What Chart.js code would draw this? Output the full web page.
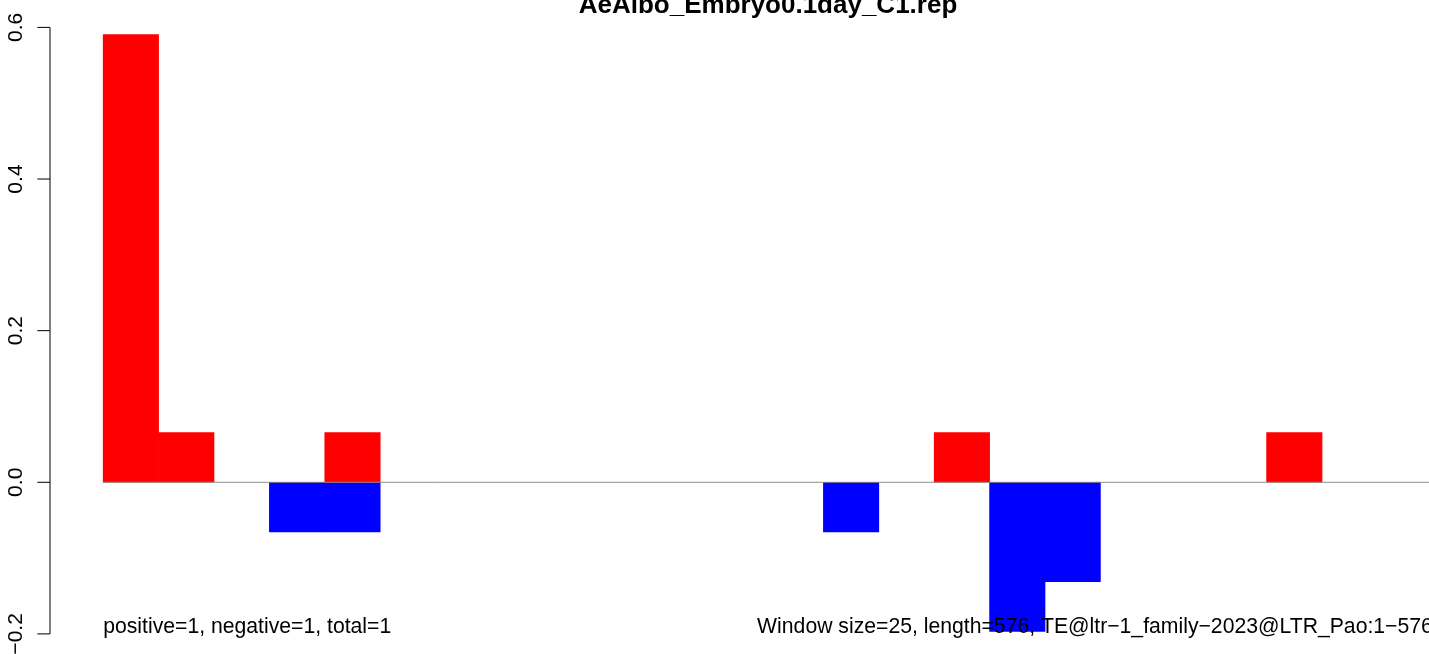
<!DOCTYPE html>
<html>
<head>
<meta charset="utf-8">
<style>
html,body{margin:0;padding:0;overflow:hidden;background:#ffffff;width:1429px;height:654px}
#wrap{position:relative;width:1500px;height:654px}
</style>
<script src="https://cdn.jsdelivr.net/npm/chart.js@4/dist/chart.umd.min.js"></script>
</head>
<body>
<div id="wrap"><canvas id="c" width="1500" height="654"></canvas></div>
<script>
// ---- data ----
const chartTitle = 'AeAlbo_Embryo0.1day_C1.rep';
const windowCount = 24;
const windowStarts = [0,1,2,3,4,5,6,7,8,9,10,11,12,13,14,15,16,17,18,19,20,21,22,23];
const positiveValues = [0.5904, 0.0656, null, null, 0.0656, null, null, null, null, null, null, null,
                        null, null, null, 0.0656, null, null, null, null, null, 0.0656, null, null];
const negativeValues = [null, null, null, -0.0656, -0.0656, null, null, null, null, null, null, null,
                        null, -0.0656, null, null, -0.1968, -0.1312, null, null, null, null, null, null];
const yTickValues = [-0.2, 0, 0.2, 0.4, 0.6];
const yTickLabels = ['\u22120.2', '0.0', '0.2', '0.4', '0.6'];
const leftNote = 'positive=1, negative=1, total=1';
const rightNote = 'Window size=25, length=576, TE@ltr\u22121_family\u22122023@LTR_Pao:1\u2212576';
const noteY = -0.1983;

const FONT = "'Liberation Sans', Arial, Helvetica, sans-serif";

const posData = windowStarts.map((s, i) => ({x: s + 0.5, y: positiveValues[i]}));
const negData = windowStarts.map((s, i) => ({x: s + 0.5, y: negativeValues[i]}));

const rStyle = {
  id: 'rStyle',
  afterDatasetsDraw(chart) {
    const ctx = chart.ctx;
    const xs = chart.scales.x, ys = chart.scales.y;
    const ca = chart.chartArea;
    ctx.save();
    // zero line
    const y0 = ys.getPixelForValue(0);
    ctx.strokeStyle = '#8e8e8e';
    ctx.lineWidth = 1;
    ctx.beginPath();
    ctx.moveTo(xs.getPixelForValue(0), y0);
    ctx.lineTo(xs.getPixelForValue(windowCount), y0);
    ctx.stroke();

    // y axis
    const ax = ca.left;
    ctx.strokeStyle = '#000000';
    ctx.lineWidth = 1;
    ctx.beginPath();
    ctx.moveTo(ax, ys.getPixelForValue(yTickValues[0]));
    ctx.lineTo(ax, ys.getPixelForValue(yTickValues[yTickValues.length - 1]));
    yTickValues.forEach(v => {
      const py = ys.getPixelForValue(v);
      ctx.moveTo(ax, py);
      ctx.lineTo(ax - 12.7, py);
    });
    ctx.stroke();

    ctx.fillStyle = '#000000';
    ctx.font = '21px ' + FONT;
    ctx.textAlign = 'center';
    ctx.textBaseline = 'alphabetic';
    yTickValues.forEach((v, i) => {
      const py = ys.getPixelForValue(v);
      ctx.save();
      ctx.translate(21.7, py);
      ctx.rotate(-Math.PI / 2);
      ctx.fillText(yTickLabels[i], 0, 0);
      ctx.restore();
    });

    // title
    ctx.font = 'bold 26px ' + FONT;
    ctx.textAlign = 'center';
    ctx.fillText(chartTitle, (ca.left + ca.right) / 2, 13);

    // notes
    ctx.font = '21.2px ' + FONT;
    const ny = ys.getPixelForValue(noteY);
    ctx.textAlign = 'left';
    ctx.fillText(leftNote, xs.getPixelForValue(0), ny);
    ctx.textAlign = 'right';
    ctx.fillText(rightNote, xs.getPixelForValue(windowCount), ny);
    ctx.restore();
  }
};

new Chart(document.getElementById('c'), {
  type: 'bar',
  data: {
    datasets: [
      {label: 'positive', data: posData, backgroundColor: '#ff0000', borderWidth: 0,
       grouped: false, barPercentage: 1, categoryPercentage: 1},
      {label: 'negative', data: negData, backgroundColor: '#0000ff', borderWidth: 0,
       grouped: false, barPercentage: 1, categoryPercentage: 1}
    ]
  },
  options: {
    responsive: false,
    animation: false,
    devicePixelRatio: 1,
    layout: {padding: {left: 50, right: 14, top: 10.8, bottom: 0}},
    plugins: {legend: {display: false}, tooltip: {enabled: false}, title: {display: false}},
    scales: {
      x: {
        type: 'linear', min: -0.96, max: windowCount + 0.96, display: false, offset: false,
        grid: {offset: false},
        ticks: {stepSize: 1},
        afterBuildTicks: s => { s.ticks = s.ticks.filter(t => Math.abs(t.value - Math.round(t.value)) < 1e-6); }
      },
      y: {type: 'linear', min: -0.2265, max: 0.6219, display: false}
    }
  },
  plugins: [rStyle]
});
</script>
</body>
</html>
